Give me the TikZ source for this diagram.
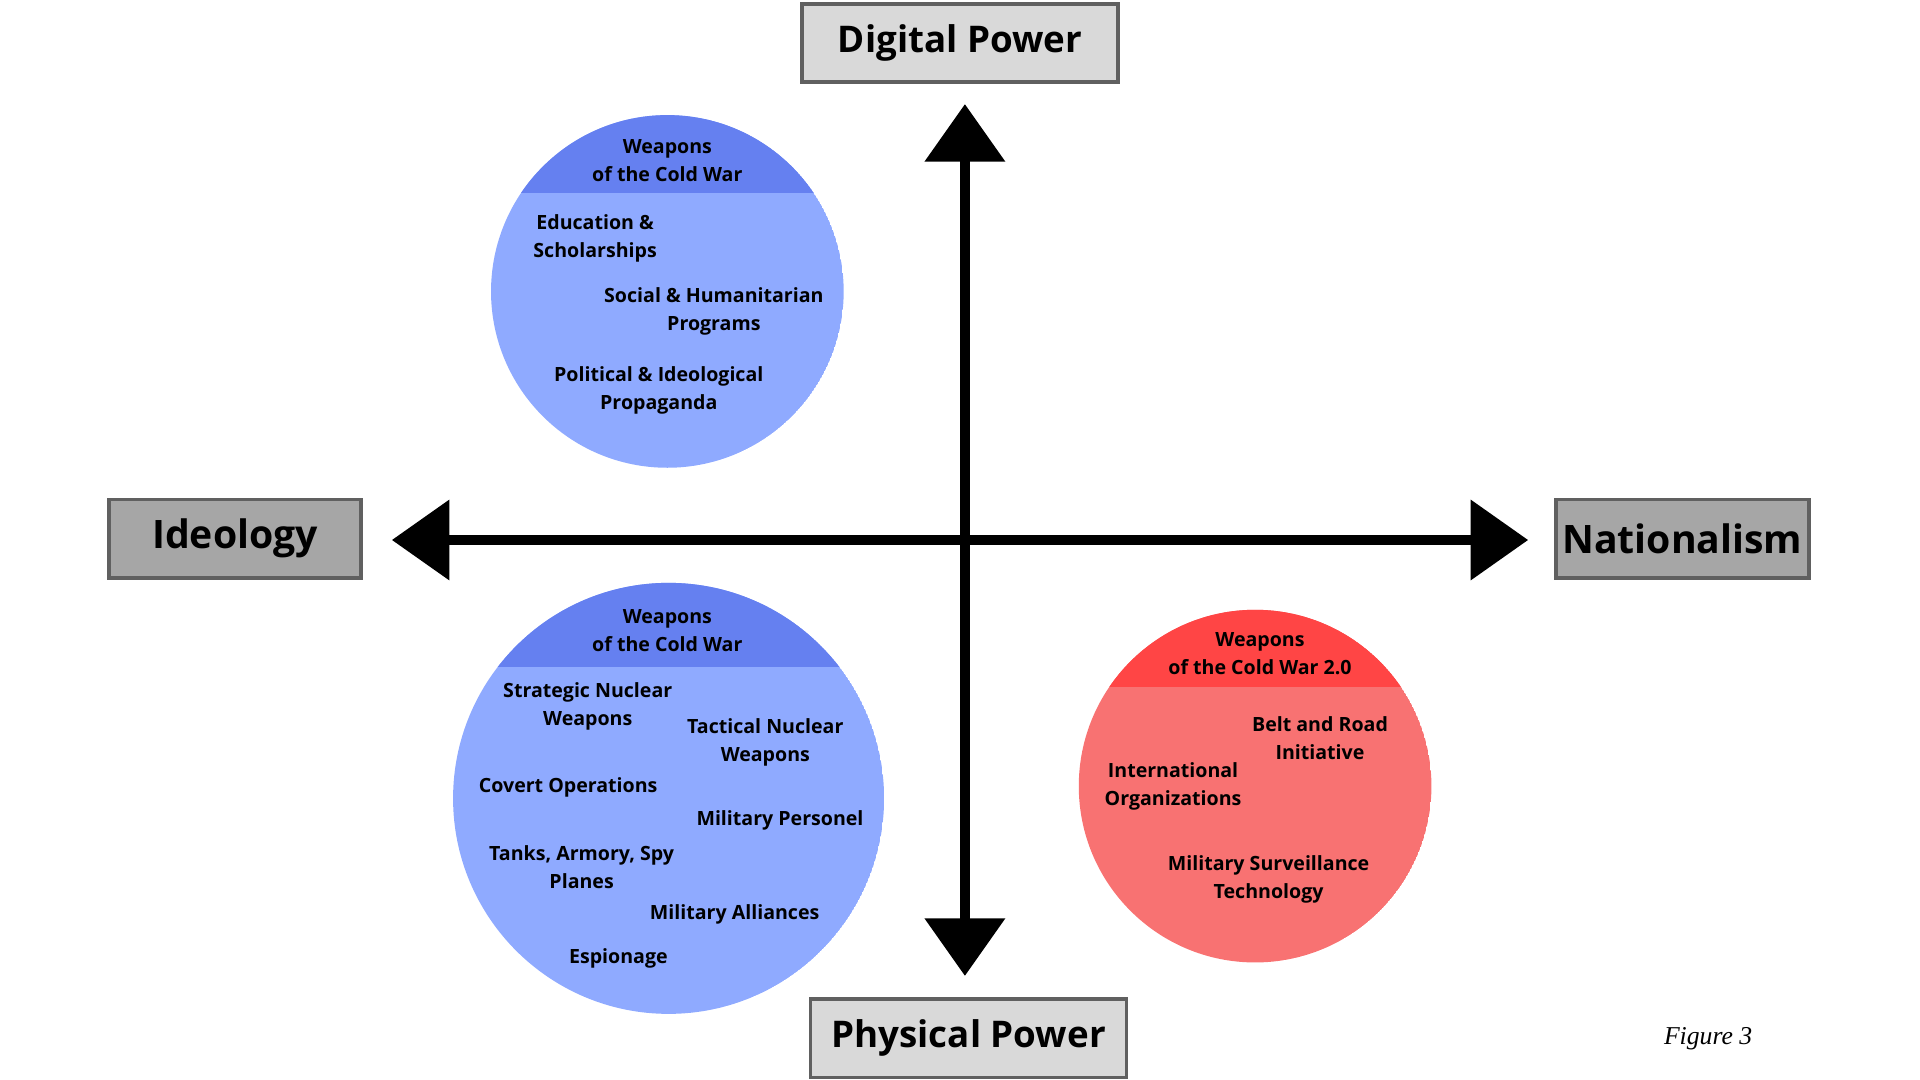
\documentclass[tikz,border=0pt]{standalone}
\usepackage{fontspec}
\setmainfont{Open Sans}
\newfontfamily\figfont{Liberation Serif}
\usetikzlibrary{arrows.meta}
\definecolor{cblue}{HTML}{8FAAFF}
\definecolor{cbluecap}{HTML}{6580F0}
\definecolor{cred}{HTML}{F87272}
\definecolor{credcap}{HTML}{FF4545}
\definecolor{lgray}{HTML}{D9D9D9}
\definecolor{dgray}{HTML}{A6A6A6}
\begin{document}
\begin{tikzpicture}[x=1pt,y=-1pt,
  lbl/.style={font=\fontsize{16}{23}\selectfont\bfseries,align=center,inner sep=0pt},
  axbox/.style={draw=gray!75!black,line width=3pt,inner sep=0pt,font=\fontsize{30}{36}\selectfont\bfseries},
  ax/.style={line width=8pt,-{Triangle[width=64pt,length=47pt]}}]
\useasboundingbox (0,0) rectangle (1568,882);
% circles
\begin{scope}
\clip (545,238) circle (144);
\fill[cblue] (545,238) circle (144);
\fill[cbluecap] (380,80) rectangle (710,158);
\end{scope}
\begin{scope}
\clip (546,652) circle (176);
\fill[cblue] (546,652) circle (176);
\fill[cbluecap] (360,470) rectangle (730,545);
\end{scope}
\begin{scope}
\clip (1025,642) circle (144);
\fill[cred] (1025,642) circle (144);
\fill[credcap] (870,490) rectangle (1180,561);
\end{scope}
% axes
\coordinate (c) at (788,441);
\coordinate (t) at (788,85);
\coordinate (b) at (788,797);
\coordinate (l) at (320,441);
\coordinate (r) at (1248,441);
\draw[ax] (c) -- (t);
\draw[ax] (c) -- (b);
\draw[ax] (c) -- (l);
\draw[ax] (c) -- (r);
% boxes
\node[axbox,fill=lgray,minimum width=258pt,minimum height=64pt] (dp) at (784,35) {Digital Power};
\node[axbox,fill=lgray,minimum width=258pt,minimum height=64pt] (pp) at (791,848) {Physical Power};
\node[axbox,fill=dgray,minimum width=206pt,minimum height=64pt,font=\fontsize{32}{36}\selectfont\bfseries] (id) at (192,440) {Ideology};
\node[axbox,fill=dgray,minimum width=207pt,minimum height=64pt,font=\fontsize{32}{36}\selectfont\bfseries] (na) at (1374,440) {Nationalism};
% circle 1 texts
\node[lbl] (w1) at (545,131) {Weapons\\of the Cold War};
\node[lbl] (a1) at (486,195) {Education \&\\Scholarships};
\node[lbl] (a2) at (583,254) {Social \& Humanitarian\\Programs};
\node[lbl] (a3) at (538,319) {Political \& Ideological\\Propaganda};
% circle 2 texts
\node[lbl] (w2) at (545,515) {Weapons\\of the Cold War};
\node[lbl] (b1) at (480,577) {Strategic Nuclear\\Weapons};
\node[lbl] (b2) at (625,606) {Tactical Nuclear\\Weapons};
\node[lbl] (b3) at (464,643) {Covert Operations};
\node[lbl] (b4) at (637,670) {Military Personel};
\node[lbl] (b5) at (475,708) {Tanks, Armory, Spy\\Planes};
\node[lbl] (b6) at (600,747) {Military Alliances};
\node[lbl] (b7) at (505,783) {Espionage};
% circle 3 texts
\node[lbl] (w3) at (1029,534) {Weapons\\of the Cold War 2.0};
\node[lbl] (r1) at (1078,603) {Belt and Road\\Initiative};
\node[lbl] (r2) at (958,642) {International\\Organizations};
\node[lbl] (r3) at (1036,718) {Military Surveillance\\Technology};
\node[font=\figfont\itshape\fontsize{21}{24}\selectfont,inner sep=0pt] (fig) at (1395,848) {Figure 3};
\end{tikzpicture}
\end{document}
